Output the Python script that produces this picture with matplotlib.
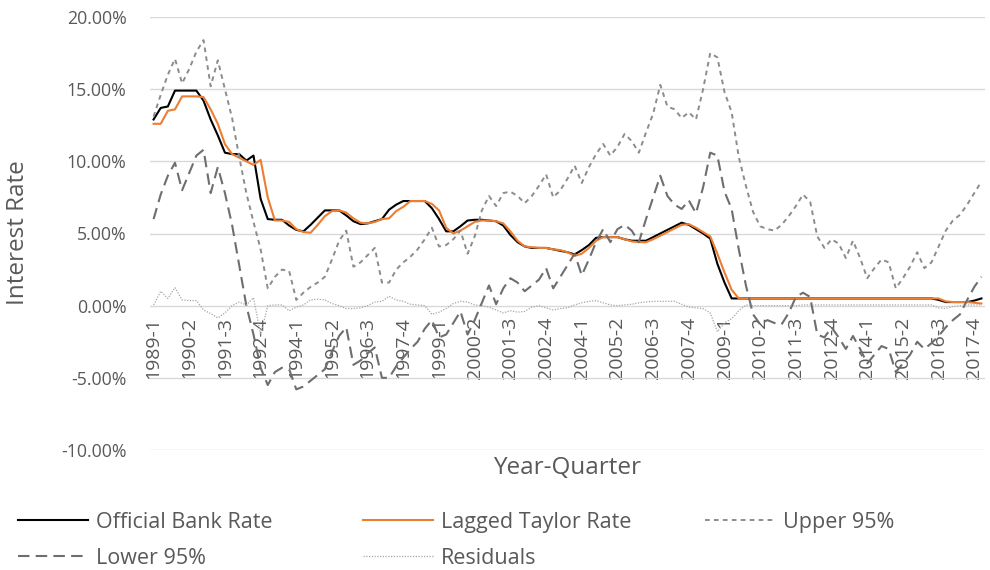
import matplotlib
matplotlib.use("Agg")
import matplotlib.pyplot as plt

plt.rcParams['font.family'] = ['Open Sans', 'DejaVu Sans']

# ---------------- data ----------------
years = list(range(1989, 2019))
quarters = [f"{y}-{q}" for y in years for q in (1, 2, 3, 4)][:117]

official_bank_rate = [
    12.9, 13.7, 13.8, 14.9, 14.9, 14.9, 14.9, 14.2, 12.9, 11.8,
    10.6, 10.5, 10.5, 10.05, 10.4, 7.4, 6.0, 5.95, 5.95, 5.55,
    5.25, 5.15, 5.6, 6.1, 6.6, 6.6, 6.6, 6.25, 5.85, 5.65,
    5.7, 5.85, 6.0, 6.65, 7.0, 7.25, 7.25, 7.25, 7.25, 6.75,
    6.0, 5.15, 5.15, 5.5, 5.9, 5.95, 5.95, 5.9, 5.85, 5.55,
    4.9, 4.4, 4.1, 4.0, 4.0, 4.0, 3.9, 3.8, 3.7, 3.55,
    3.85, 4.2, 4.7, 4.75, 4.75, 4.75, 4.6, 4.5, 4.5, 4.5,
    4.75, 5.0, 5.25, 5.5, 5.75, 5.6, 5.3, 5.0, 4.65, 2.9,
    1.6, 0.5, 0.5, 0.5, 0.5, 0.5, 0.5, 0.5, 0.5, 0.5,
    0.5, 0.5, 0.5, 0.5, 0.5, 0.5, 0.5, 0.5, 0.5, 0.5,
    0.5, 0.5, 0.5, 0.5, 0.5, 0.5, 0.5, 0.5, 0.5, 0.5,
    0.4, 0.25, 0.25, 0.25, 0.25, 0.35, 0.5,
]

lagged_taylor_rate = [
    12.6, 12.6, 13.5, 13.6, 14.5, 14.5, 14.5, 14.45, 13.6, 12.6,
    11.2, 10.5, 10.25, 10.0, 9.75, 10.1, 7.5, 5.9, 5.9, 5.8,
    5.3, 5.1, 5.05, 5.6, 6.2, 6.55, 6.6, 6.45, 6.05, 5.75,
    5.7, 5.8, 6.0, 6.05, 6.55, 6.85, 7.25, 7.25, 7.25, 7.05,
    6.6, 5.4, 5.0, 5.2, 5.5, 5.8, 5.9, 5.9, 5.85, 5.7,
    5.15, 4.5, 4.1, 4.05, 4.0, 4.0, 3.9, 3.85, 3.7, 3.45,
    3.6, 4.0, 4.5, 4.75, 4.75, 4.75, 4.6, 4.45, 4.4, 4.4,
    4.6, 4.85, 5.1, 5.35, 5.6, 5.65, 5.4, 5.1, 4.8, 3.6,
    2.3, 1.1, 0.5, 0.5, 0.5, 0.5, 0.5, 0.5, 0.5, 0.5,
    0.5, 0.5, 0.5, 0.5, 0.5, 0.5, 0.5, 0.5, 0.5, 0.5,
    0.5, 0.5, 0.5, 0.5, 0.5, 0.5, 0.5, 0.5, 0.5, 0.5,
    0.5, 0.3, 0.25, 0.25, 0.25, 0.2, 0.15,
]

upper_95 = [
    13.1, 14.6, 16.0, 17.1, 15.4, 16.4, 17.6, 18.4, 15.2, 17.0,
    15.0, 13.0, 10.3, 7.8, 5.8, 3.9, 1.2, 2.0, 2.5, 2.4,
    0.4, 0.9, 1.3, 1.6, 2.0, 3.2, 4.5, 5.2, 2.7, 3.0,
    3.5, 4.0, 1.6, 1.6, 2.5, 3.0, 3.4, 3.9, 4.6, 5.4,
    4.1, 4.2, 4.6, 5.2, 3.6, 4.8, 6.6, 7.6, 6.9, 7.8,
    7.9, 7.6, 7.1, 7.6, 8.3, 9.1, 7.5, 8.0, 8.8, 9.7,
    8.5, 9.6, 10.5, 11.2, 10.4, 11.0, 11.9, 11.4, 10.6, 12.0,
    13.3, 15.3, 13.8, 13.6, 13.0, 13.4, 12.9, 15.0, 17.5, 17.2,
    14.8, 13.4, 10.3, 8.3, 6.5, 5.5, 5.3, 5.2, 5.6, 6.2,
    6.9, 7.7, 7.2, 4.8, 4.0, 4.6, 4.3, 3.3, 4.5, 3.3,
    1.9, 2.6, 3.2, 3.0, 1.2, 1.9, 2.7, 3.7, 2.6, 3.0,
    4.1, 5.2, 5.9, 6.3, 7.0, 7.8, 8.6,
]

lower_95 = [
    6.0, 7.7, 9.0, 9.9, 8.0, 9.2, 10.4, 10.8, 7.8, 9.6,
    7.8, 5.6, 2.8, 0.0, -2.0, -4.3, -5.5, -4.6, -4.3, -4.4,
    -5.8, -5.6, -5.2, -4.8, -4.4, -3.2, -2.1, -1.5, -4.1, -3.8,
    -3.3, -2.9, -5.0, -5.0, -4.2, -3.6, -3.0, -2.5, -1.6, -1.0,
    -2.2, -2.0, -1.2, -0.4, -2.0, -1.0, 0.2, 1.4, 0.1, 1.2,
    1.9, 1.6, 1.0, 1.4, 1.8, 2.6, 1.2, 2.0, 2.8, 3.6,
    2.1, 3.2, 4.4, 5.3, 4.4, 5.3, 5.6, 5.2, 4.4, 6.0,
    7.5, 9.0, 7.6, 7.0, 6.7, 7.3, 6.4, 8.2, 10.6, 10.4,
    7.9, 6.7, 3.9, 1.4, -0.6, -1.3, -1.0, -1.2, -1.3, -0.5,
    0.6, 0.9, 0.6, -2.0, -2.2, -1.5, -2.2, -3.0, -2.1, -3.0,
    -4.0, -3.4, -2.8, -3.0, -4.6, -4.0, -3.4, -2.5, -3.0, -2.6,
    -2.1, -1.5, -1.0, -0.6, 0.4, 1.3, 2.0,
]

residuals = [
    0.05, 1.0, 0.5, 1.25, 0.4, 0.35, 0.35, -0.3, -0.55, -0.85,
    -0.5, 0.0, 0.25, 0.05, 0.55, -2.0, 0.0, 0.05, 0.05, -0.35,
    -0.1, 0.05, 0.4, 0.45, 0.4, 0.15, 0.0, -0.2, -0.2, -0.15,
    0.0, 0.25, 0.3, 0.65, 0.4, 0.3, 0.1, 0.05, 0.0, -0.6,
    -0.45, -0.2, 0.15, 0.3, 0.25, 0.05, 0.0, -0.1, -0.3, -0.5,
    -0.35, -0.45, -0.4, -0.1, 0.0, -0.15, -0.3, -0.2, -0.15, 0.05,
    0.2, 0.3, 0.35, 0.2, 0.05, 0.0, 0.05, 0.1, 0.2, 0.25,
    0.3, 0.3, 0.3, 0.3, 0.1, -0.1, -0.15, -0.2, -0.5, -1.8,
    -1.2, -0.9, -0.35, 0.05, 0.0, 0.0, 0.0, 0.0, 0.0, 0.0,
    0.0, 0.05, 0.05, 0.05, 0.05, 0.05, 0.05, 0.05, 0.05, 0.05,
    0.05, 0.05, 0.05, 0.05, 0.05, 0.05, 0.05, 0.05, 0.05, 0.05,
    -0.15, -0.2, -0.05, 0.0, 0.05, 0.05, 0.05,
]

y_ticks = [-10, -5, 0, 5, 10, 15, 20]
label_every = 5

# ---------------- figure ----------------
TXT = '#595959'
fig = plt.figure(figsize=(9.9, 5.7), dpi=100)
ax = fig.add_axes([150 / 990, 1 - 450 / 570, 835 / 990, 433 / 570])

x = list(range(len(quarters)))
l_off, = ax.plot(x, official_bank_rate, color='#000000', lw=1.5, label='Official Bank Rate')
l_lag, = ax.plot(x, lagged_taylor_rate, color='#ED7D31', lw=1.5, label='Lagged Taylor Rate')
l_up, = ax.plot(x, upper_95, color='#8c8c8c', lw=1.4, linestyle=(0, (2.4, 2.2)), label='Upper 95%')
l_low, = ax.plot(x, lower_95, color='#6e6e6e', lw=1.5, linestyle=(0, (5.5, 3.0)), label='Lower 95%')
l_res, = ax.plot(x, residuals, color='#a6a6a6', lw=0.9, linestyle=(0, (1, 1.2)), label='Residuals')

for s in ax.spines.values():
    s.set_visible(False)
ax.spines['bottom'].set_position(('data', 0))

ax.set_xlim(-0.5, len(quarters) - 0.5)
ax.set_ylim(min(y_ticks), max(y_ticks))
ax.set_yticks(y_ticks)
ax.set_yticklabels([f"{v:.2f}%" for v in y_ticks])
ax.yaxis.grid(True, color='#d9d9d9', lw=1.0)
ax.set_axisbelow(True)

tick_pos = x[::label_every]
ax.set_xticks(tick_pos)
ax.set_xticklabels([quarters[i] for i in tick_pos])
ax.tick_params(axis='y', length=0, pad=17, labelsize=12.8, labelcolor=TXT)
ax.tick_params(axis='x', length=0, pad=8, labelsize=14, labelcolor=TXT, labelrotation=90)

fig.text(567 / 990, 1 - 468 / 570, 'Year-Quarter', ha='center', va='center', fontsize=17.5, color=TXT)
fig.text(18 / 990, 1 - 233 / 570, 'Interest Rate', ha='center', va='center', rotation=90, fontsize=17.5, color=TXT)

leg_kw = dict(loc='upper left', frameon=False, fontsize=15.5, handlelength=3.25,
              handletextpad=0.37, labelspacing=0.68, borderaxespad=0, borderpad=0)
col_x = [18, 363, 705]
cols = [[l_off, l_low], [l_lag, l_res], [l_up]]
for cx, hs in zip(col_x, cols):
    lg = fig.legend(handles=hs, bbox_to_anchor=(cx / 990, 1 - 512 / 570), **leg_kw)
    for t in lg.get_texts():
        t.set_color(TXT)

fig.savefig('out.png', dpi=100)
